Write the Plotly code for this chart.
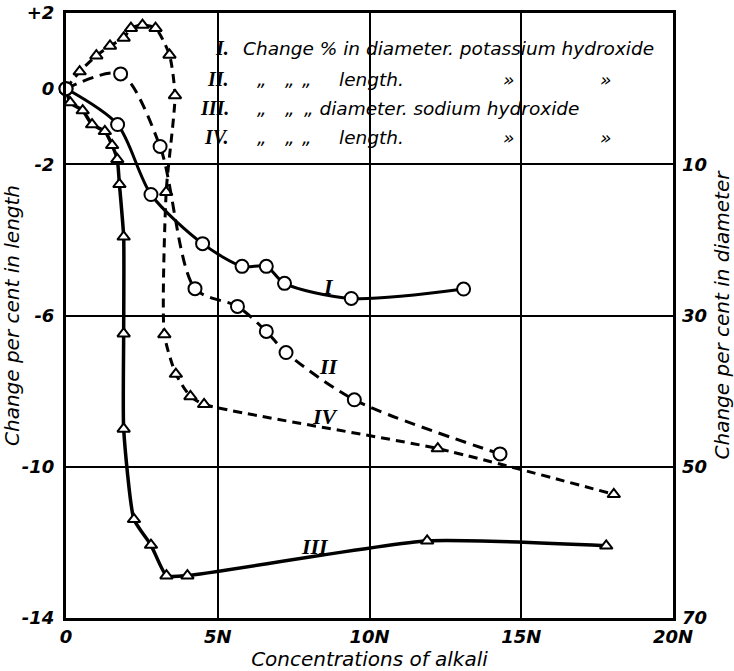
import plotly.graph_objects as go

# Concentration of alkali (N)
x_I = [0, 1.7, 2.8, 4.5, 5.8, 6.6, 7.2, 9.4, 13.1]
# I: change % in diameter, potassium hydroxide (right axis units)
y_I = [0, 4.75, 14.0, 20.5, 23.5, 23.5, 25.75, 27.75, 26.5]

x_II = [0, 1.8, 3.1, 4.25, 5.65, 6.6, 7.25, 9.5, 14.3]
# II: change % in length, potassium hydroxide (left axis units)
y_II = [0, 0.39, -1.53, -5.29, -5.76, -6.42, -6.98, -8.23, -9.66]

x_III = [0, 0.14, 0.55, 0.86, 1.28, 1.52, 1.69, 1.76, 1.9, 1.9, 1.9, 2.24, 2.8, 3.31, 4.0, 11.9, 17.8]
# III: change % in diameter, sodium hydroxide (right axis units)
y_III = [0, 1.85, 2.9, 4.75, 5.65, 7.5, 9.35, 12.65, 19.6, 32.4, 45.0, 56.95, 60.35, 64.4, 64.4, 59.8, 60.45]

x_IV = [0, 0.45, 1.0, 1.45, 1.9, 2.14, 2.52, 2.95, 3.41, 3.59, 3.3, 3.24, 3.62, 4.1, 4.55, 12.25, 18.05]
# IV: change % in length, sodium hydroxide (left axis units)
y_IV = [0, 0.45, 0.87, 1.13, 1.34, 1.6, 1.68, 1.6, 0.89, -0.18, -2.74, -6.5, -7.55, -8.14, -8.35, -9.52, -10.73]

x_ticks = [0, 5, 10, 15, 20]
x_ticktext = ["0", "5N", "10N", "15N", "20N"]
yl_ticks = [2, 0, -2, -6, -10, -14]
yl_ticktext = ["+2", "0", "-2", "-6", "-10", "-14"]
yr_ticks = [10, 30, 50, 70]
yr_ticktext = ["10", "30", "50", "70"]

curve_labels = ["I", "II", "III", "IV"]
curve_label_x = [8.66, 8.66, 8.2, 8.56]
curve_label_y = [26.2, -7.35, 60.5, -8.68]
curve_label_axis = ["y2", "y", "y2", "y"]

legend_numerals = ["I.", "II.", "III.", "IV."]
legend_texts = [
    ["Change % in diameter. potassium hydroxide"],
    ["\u201e", "\u201e", "\u201e", "length.", "\u00bb", "\u00bb"],
    ["\u201e", "\u201e", "\u201e diameter. sodium hydroxide"],
    ["\u201e", "\u201e", "\u201e", "length.", "\u00bb", "\u00bb"],
]

SANS = "DejaVu Sans"
SERIF = "Liberation Serif"
W, H = 734, 671
L, R, T, B = 66, 61, 13, 53
PW, PH = W - L - R, H - T - B


def px(x):
    return (x - L) / PW


def py(y):
    return (H - B - y) / PH


fig = go.Figure()

tri = dict(symbol="triangle-up", size=11, color="white", line=dict(color="black", width=2))
circ = dict(symbol="circle", size=13, color="white", line=dict(color="black", width=2))

fig.add_trace(go.Scatter(x=x_III, y=y_III, yaxis="y2", mode="lines+markers",
                         line=dict(color="black", width=3.5, shape="spline", smoothing=0.5),
                         marker=tri, cliponaxis=False, showlegend=False))
fig.add_trace(go.Scatter(x=x_IV, y=y_IV, yaxis="y", mode="lines+markers",
                         line=dict(color="black", width=3, dash="9px,6px", shape="spline", smoothing=0.6),
                         marker=tri, cliponaxis=False, showlegend=False))
fig.add_trace(go.Scatter(x=x_II, y=y_II, yaxis="y", mode="lines+markers",
                         line=dict(color="black", width=3, dash="11px,7px", shape="spline", smoothing=0.8),
                         marker=circ, cliponaxis=False, showlegend=False))
fig.add_trace(go.Scatter(x=x_I, y=y_I, yaxis="y2", mode="lines+markers",
                         line=dict(color="black", width=3, shape="spline", smoothing=0.8),
                         marker=circ, cliponaxis=False, showlegend=False))

tickfont = dict(family=SANS, size=18, color="black", style="italic", weight="bold")
titlefont = dict(family=SANS, size=20, color="black", style="italic")

fig.update_layout(
    width=W, height=H,
    margin=dict(l=L, r=R, t=T, b=B, pad=0),
    paper_bgcolor="white", plot_bgcolor="white",
    xaxis=dict(range=[0, 20], tickvals=x_ticks, ticktext=x_ticktext, showgrid=True,
               gridcolor="black", gridwidth=2, zeroline=False, showline=True, linecolor="black",
               linewidth=3, mirror=True, ticks="", tickfont=tickfont, automargin=False,
               title=dict(text="Concentrations of alkali", font=titlefont, standoff=0)),
    yaxis=dict(range=[-14, 2], tickvals=yl_ticks, ticktext=yl_ticktext, showgrid=False,
               zeroline=False, showline=True, linecolor="black", linewidth=3, mirror=True,
               ticks="", tickfont=tickfont, ticklabelstandoff=5, automargin=False,
               title=dict(text="Change per cent in length", font=titlefont, standoff=2)),
    yaxis2=dict(range=[70, -10], overlaying="y", side="right", tickvals=yr_ticks,
                ticktext=yr_ticktext, showgrid=True, gridcolor="black", gridwidth=2,
                zeroline=False, showline=False, ticks="", tickfont=tickfont, ticklabelstandoff=8,
                automargin=False,
                title=dict(text="Change per cent in diameter", font=titlefont, standoff=8)),
)

# Curve labels
for t, xv, yv, ax in zip(curve_labels, curve_label_x, curve_label_y, curve_label_axis):
    fig.add_annotation(x=xv, y=yv, xref="x", yref=ax, text="<i><b>%s</b></i>" % t, showarrow=False,
                       font=dict(family=SERIF, size=22, color="black"))

# Legend block
row_y = [48, 79, 108, 137]
row_x = [
    [241],
    [262, 290, 307, 337, 508, 605],
    [262, 290, 302],
    [262, 290, 307, 337, 508, 605],
]
for num, texts, xs, yy in zip(legend_numerals, legend_texts, row_x, row_y):
    fig.add_annotation(x=px(231), y=py(yy), xref="paper", yref="paper", xanchor="right",
                       yanchor="middle", text="<i><b>%s</b></i>" % num, showarrow=False,
                       font=dict(family=SERIF, size=20, color="black"))
    for t, xx in zip(texts, xs):
        anchor = "left" if len(t) > 1 else "center"
        fig.add_annotation(x=px(xx), y=py(yy), xref="paper", yref="paper", xanchor=anchor,
                           yanchor="middle", text=t, showarrow=False,
                           font=dict(family=SANS, size=18.5, color="black", style="italic"))

fig.write_html("out.html")
